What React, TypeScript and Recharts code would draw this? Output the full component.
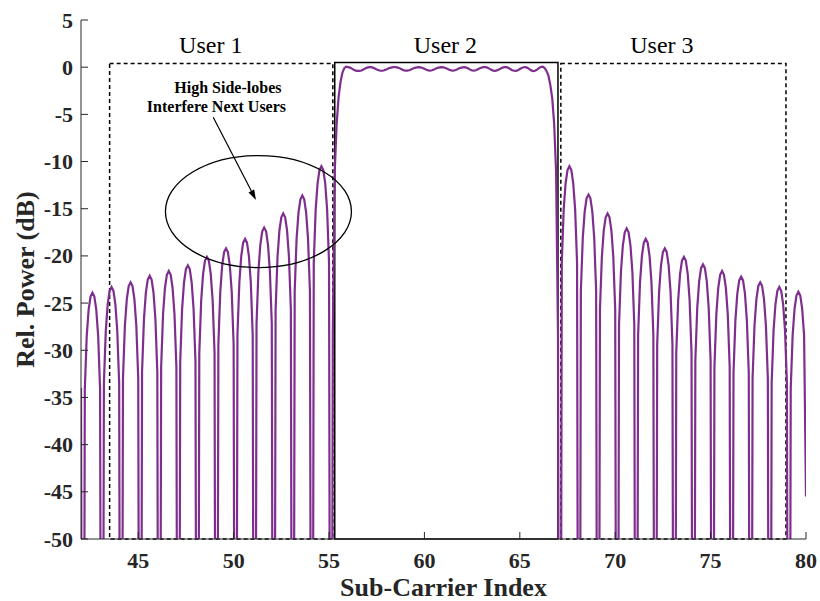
import { LineChart, Line, XAxis, YAxis, ReferenceArea, ReferenceDot, ReferenceLine } from "recharts";

const FONT = "'Liberation Serif', 'Times New Roman', serif";
const PURPLE = "#7E2F8E";
const AXIS = "#262626";

const xTicks = [45, 50, 55, 60, 65, 70, 75, 80];
const yTicks = [-50, -45, -40, -35, -30, -25, -20, -15, -10, -5, 0, 5];

// spectrum sampled every 0.1 from 42.0; each row is one sub-carrier (n.0 .. n.9)
const X_START = 42;
const X_STEP = 0.1;
const N = -120; // spectral null, far below the axis floor

const user1Lobes = [
  [-34.0, N, -34.1, -28.5, -25.7, -24.3, -23.9, -24.3, -25.7, -28.5],
  [-34.1, N, -33.5, -27.9, -25.1, -23.7, -23.3, -23.7, -25.1, -27.9],
  [-33.5, N, -33.0, -27.4, -24.6, -23.2, -22.8, -23.2, -24.6, -27.4],
  [-33.0, N, -32.3, -26.7, -23.9, -22.5, -22.1, -22.5, -23.9, -26.7],
  [-32.3, N, -31.8, -26.2, -23.4, -22.0, -21.6, -22.0, -23.4, -26.2],
  [-31.8, N, -31.2, -25.6, -22.8, -21.4, -21.0, -21.4, -22.8, -25.6],
  [-31.2, N, -30.3, -24.7, -21.9, -20.5, -20.1, -20.5, -21.9, -24.7],
  [-30.3, N, -29.4, -23.8, -21.0, -19.6, -19.2, -19.6, -21.0, -23.8],
  [-29.4, N, -28.4, -22.8, -20.0, -18.6, -18.2, -18.6, -20.0, -22.8],
  [-28.4, N, -27.2, -21.6, -18.8, -17.4, -17.0, -17.4, -18.8, -21.6],
  [-27.2, N, -25.7, -20.1, -17.3, -15.9, -15.5, -15.9, -17.3, -20.1],
  [-25.7, N, -23.8, -18.2, -15.4, -14.0, -13.6, -14.0, -15.4, -18.2],
  [-23.8, N, -20.7, -15.1, -12.3, -10.9, -10.5, -10.9, -12.3, -15.1],
];

const user2Band = [
  [-20.7, N, -28, -11, -6.0, -3.2, -1.6, -0.6, -0.1, 0.05],
  [0.0, -0.05, -0.15, -0.28, -0.37, -0.4, -0.4, -0.35, -0.25, -0.13],
  [-0.05, 0.0, 0.0, -0.05, -0.15, -0.25, -0.33, -0.38, -0.38, -0.33],
  [-0.25, -0.15, -0.07, -0.02, 0.0, 0.0, -0.04, -0.12, -0.22, -0.31],
  [-0.36, -0.37, -0.33, -0.25, -0.15, -0.07, -0.02, 0.0, -0.02, -0.08],
  [-0.17, -0.27, -0.34, -0.36, -0.33, -0.25, -0.15, -0.07, -0.02, 0.0],
  [-0.02, -0.08, -0.17, -0.27, -0.34, -0.36, -0.33, -0.25, -0.15, -0.07],
  [-0.02, 0.0, -0.04, -0.14, -0.26, -0.35, -0.37, -0.33, -0.23, -0.12],
  [-0.04, 0.0, 0.0, -0.05, -0.15, -0.27, -0.36, -0.38, -0.34, -0.24],
  [-0.13, -0.05, 0.0, 0.0, -0.07, -0.2, -0.32, -0.38, -0.39, -0.32],
  [-0.2, -0.08, -0.01, 0.0, -0.07, -0.2, -0.34, -0.41, -0.38, -0.26],
  [-0.1, 0.02, 0.05, -0.1, -0.4, -0.9, -1.9, -3.3, -6.0, -11.0],
];

const user3Lobes = [
  [-28, N, -20.7, -15.1, -12.3, -10.9, -10.5, -10.9, -12.3, -15.1],
  [-20.7, N, -23.7, -18.1, -15.3, -13.9, -13.5, -13.9, -15.3, -18.1],
  [-23.7, N, -25.7, -20.1, -17.3, -15.9, -15.5, -15.9, -17.3, -20.1],
  [-25.7, N, -27.3, -21.7, -18.9, -17.5, -17.1, -17.5, -18.9, -21.7],
  [-27.3, N, -28.4, -22.8, -20.0, -18.6, -18.2, -18.6, -20.0, -22.8],
  [-28.4, N, -29.4, -23.8, -21.0, -19.6, -19.2, -19.6, -21.0, -23.8],
  [-29.4, N, -30.3, -24.7, -21.9, -20.5, -20.1, -20.5, -21.9, -24.7],
  [-30.3, N, -31.1, -25.5, -22.7, -21.3, -20.9, -21.3, -22.7, -25.5],
  [-31.1, N, -31.8, -26.2, -23.4, -22.0, -21.6, -22.0, -23.4, -26.2],
  [-31.8, N, -32.4, -26.8, -24.0, -22.6, -22.2, -22.6, -24.0, -26.8],
  [-32.4, N, -33.0, -27.4, -24.6, -23.2, -22.8, -23.2, -24.6, -27.4],
  [-33.0, N, -33.5, -27.9, -25.1, -23.7, -23.3, -23.7, -25.1, -27.9],
  [-33.5, N, -34.0, -28.4, -25.6, -24.2, -23.8, -24.2, -25.6, -28.4],
];
const endPower = -45.5;

const spectrum = [...user1Lobes.flat(), ...user2Band.flat(), ...user3Lobes.flat(), endPower].map(
  (y, i) => ({ x: Math.round((X_START + i * X_STEP) * 10) / 10, y })
);

// user bands: [from, to, top]
const userBands = [
  [43.5, 55.2, 0.4],
  [55.3, 67.0, 0.5],
  [67.15, 78.95, 0.4],
];
const userNames = ["User 1", "User 2", "User 3"];
const userLabelX = [48.8, 61.1, 72.45];
const userLabelY = 1.5;

const noteLines = ["High Side-lobes", "Interfere Next Users"];
const noteX = [49.7, 49.1];
const noteY = [-2.7, -4.8];

const ellipseCenter = { x: 51.3, y: -15.3 };
const arrowFrom = { x: 48.93, y: -5.3 };
const arrowTo = { x: 51.17, y: -14.07 };

const textShape = (text: string, size: number, bold: boolean) => (p: any) => (
  <text
    x={p.cx}
    y={p.cy}
    textAnchor="middle"
    fontFamily={FONT}
    fontSize={size}
    fontWeight={bold ? "bold" : "normal"}
    fill="#000"
  >
    {text}
  </text>
);

const EllipseShape = (p: any) => (
  <ellipse cx={p.cx} cy={p.cy} rx={93} ry={56} fill="none" stroke="#000" strokeWidth={1.3} />
);

const ArrowShape = (p: any) => {
  const { x1, y1, x2, y2 } = p;
  const a = Math.atan2(y2 - y1, x2 - x1);
  const len = 10;
  const half = 3.2;
  const bx = x2 - len * Math.cos(a);
  const by = y2 - len * Math.sin(a);
  const pts = `${x2},${y2} ${bx - half * Math.sin(a)},${by + half * Math.cos(a)} ${bx + half * Math.sin(a)},${by - half * Math.cos(a)}`;
  return (
    <g>
      <line x1={x1} y1={y1} x2={bx} y2={by} stroke="#000" strokeWidth={1.2} />
      <polygon points={pts} fill="#000" />
    </g>
  );
};

const XTick = (p: any) => (
  <text x={p.x} y={p.y} dy={15} textAnchor="middle" fill={AXIS} fontSize={22} fontWeight="bold" fontFamily={FONT}>
    {p.payload.value}
  </text>
);

const YTick = (p: any) => (
  <text x={p.x} y={p.y} dy={7.5} textAnchor="end" fill={AXIS} fontSize={22} fontWeight="bold" fontFamily={FONT}>
    {p.payload.value}
  </text>
);

export default function App() {
  return (
    <div style={{ position: "absolute", left: 0, top: 0, fontFamily: FONT }}>
      <LineChart width={820} height={601} data={spectrum} margin={{ top: 20, right: 14, left: 0, bottom: 0 }}>
        <XAxis
          dataKey="x"
          type="number"
          domain={[42, 80]}
          ticks={xTicks}
          interval={0}
          allowDataOverflow
          height={62}
          stroke={AXIS}
          tickSize={-7}
          tickMargin={21}
          tick={XTick}
          label={{
            value: "Sub-Carrier Index",
            position: "insideBottom",
            offset: 5,
            style: { fill: AXIS, fontSize: 26, fontWeight: "bold", fontFamily: FONT },
          }}
        />
        <XAxis
          xAxisId="top"
          orientation="top"
          type="number"
          domain={[42, 80]}
          ticks={xTicks}
          interval={0}
          height={0}
          stroke={AXIS}
          tickSize={-7}
          tickFormatter={() => ""}
        />
        <YAxis
          type="number"
          domain={[-50, 5]}
          ticks={yTicks}
          interval={0}
          allowDataOverflow
          width={81}
          stroke={AXIS}
          tickSize={-7}
          tickMargin={15}
          tick={YTick}
          label={{
            value: "Rel. Power (dB)",
            angle: -90,
            position: "insideLeft",
            offset: 25,
            style: { fill: AXIS, fontSize: 26, fontWeight: "bold", fontFamily: FONT, textAnchor: "middle" },
          }}
        />
        <YAxis
          yAxisId="right"
          orientation="right"
          type="number"
          domain={[-50, 5]}
          ticks={yTicks}
          interval={0}
          width={0}
          stroke={AXIS}
          tickSize={-7}
          tickFormatter={() => ""}
        />
        {userBands.map(([from, to, top], i) => (
          <ReferenceArea
            key={userNames[i]}
            x1={from}
            x2={to}
            y1={-50}
            y2={top}
            fill="none"
            fillOpacity={0}
            stroke="#000"
            strokeWidth={1.5}
            strokeDasharray={i === 1 ? undefined : "4 3"}
          />
        ))}
        <Line
          type="linear"
          dataKey="y"
          stroke={PURPLE}
          strokeWidth={2.2}
          dot={false}
          isAnimationActive={false}
        />
        {userNames.map((name, i) => (
          <ReferenceDot key={name} x={userLabelX[i]} y={userLabelY} shape={textShape(name, 24, false)} />
        ))}
        {noteLines.map((t, i) => (
          <ReferenceDot key={t} x={noteX[i]} y={noteY[i]} shape={textShape(t, 16, true)} />
        ))}
        <ReferenceDot x={ellipseCenter.x} y={ellipseCenter.y} shape={EllipseShape} />
        <ReferenceLine segment={[arrowFrom, arrowTo]} shape={ArrowShape} />
      </LineChart>
    </div>
  );
}
